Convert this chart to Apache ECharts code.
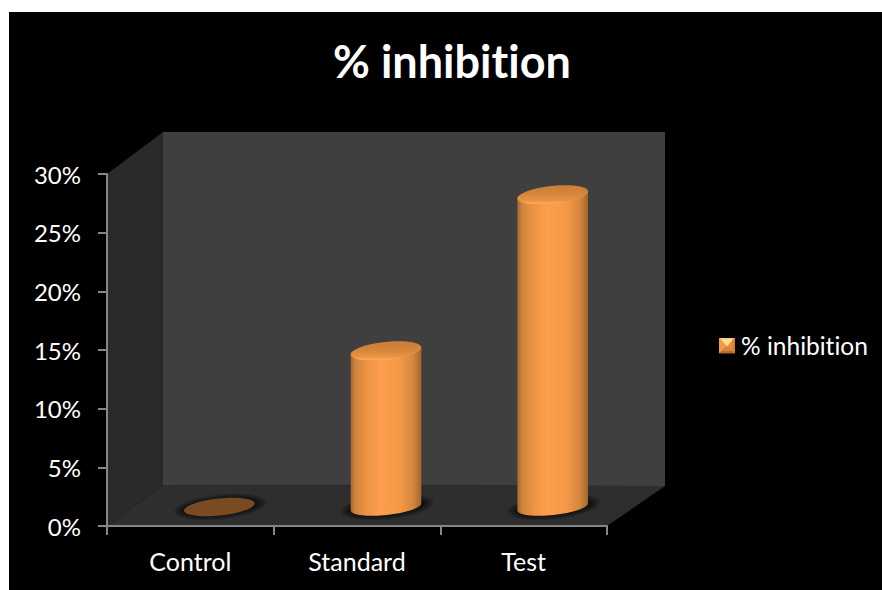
<!DOCTYPE html>
<html>
<head>
<meta charset="utf-8">
<style>
html, body { margin: 0; padding: 0; background: #fff; overflow: hidden; }
#chart { position: absolute; left: 9px; top: 12px; width: 873px; height: 578px; background: #000; }
#chart svg text { font-variant-ligatures: none; }
</style>
<script src="https://cdn.jsdelivr.net/npm/echarts@6/dist/echarts.min.js"></script>
</head>
<body>
<div id="chart"></div>
<script>
// Values of the % inhibition chart
const chartTitle = '% inhibition';
const categories = ['Control', 'Standard', 'Test'];
const inhibition = [0, 13.3, 26.6];
const axisMax = 30;
const axisStep = 5;

const FONT = 'Lato';
// Depth of the 3D box, as a pixel offset from the front plane to the back wall
const BACK_LEFT = [56, -41];
const BACK_RIGHT = [58, -40];
// Cylinders stand half way into the box
const MID_DEPTH = [29, -19];
const TILT = -6 * Math.PI / 180;
const RX = 35.5;
const RY = 8;

function ellipse(cx, cy, a, b, from, to, steps) {
  const pts = [];
  for (let i = 0; i <= steps; i++) {
    const t = from + (to - from) * i / steps;
    pts.push([
      cx + a * Math.cos(t) * Math.cos(TILT) - b * Math.sin(t) * Math.sin(TILT),
      cy + a * Math.cos(t) * Math.sin(TILT) + b * Math.sin(t) * Math.cos(TILT)
    ]);
  }
  return pts;
}

function linear(x, y, x2, y2, stops) {
  return {
    type: 'linear', x, y, x2, y2,
    colorStops: stops.map(s => ({ offset: s[0], color: s[1] }))
  };
}

function poly(points, fill) {
  return { type: 'polygon', shape: { points }, style: { fill }, silent: true };
}

// Back wall, side wall and floor of the box, anchored on the axis corners
function renderBox(params, api) {
  const x0 = params.coordSys.x;
  const x1 = x0 + params.coordSys.width;
  const top = api.coord([0, axisMax])[1];
  const bottom = api.coord([0, 0])[1];
  const bl = [x0 + BACK_LEFT[0], bottom + BACK_LEFT[1]];
  const tl = [x0 + BACK_LEFT[0], top - 42];
  const br = [x1 + BACK_RIGHT[0], bottom + BACK_RIGHT[1]];
  const tr = [x1 + BACK_RIGHT[0], top - 42];
  return {
    type: 'group',
    children: [
      poly([tl, tr, br, bl], '#3f3f3f'),
      poly([[x0, top], tl, bl, [x0, bottom]], '#2a2a2a'),
      poly([[x0, bottom], bl, br, [x1, bottom]], '#2e2e2e')
    ]
  };
}

function renderCylinder(params, api) {
  const base = api.coord([api.value(0), 0]);
  const head = api.coord([api.value(0), api.value(1)]);
  const cx = base[0] + MID_DEPTH[0];
  const by = base[1] + MID_DEPTH[1];
  const ty = head[1] + MID_DEPTH[1];
  const children = [];
  // Soft contact shadow built from nested translucent ellipses
  for (let i = 0; i < 7; i++) {
    children.push(poly(
      ellipse(cx + 1, by, RX + 11 - i * 2, RY + 4.5 - i, 0, Math.PI * 2, 48),
      'rgba(0,0,0,0.15)'
    ));
  }
  if (api.value(1) <= 0) {
    children.push(poly(ellipse(cx, by, RX, RY + 0.5, 0, Math.PI * 2, 48), '#7a4a23'));
    return { type: 'group', children };
  }
  const lower = ellipse(cx, by, RX, RY, 0, Math.PI, 32);
  const upperEnds = ellipse(cx, ty, RX, RY, Math.PI, Math.PI * 2, 1);
  const bodyFill = linear(0, 0, 1, 0, [
    [0, '#a6682f'], [0.07, '#cf843d'], [0.22, '#ec9344'], [0.42, '#fd9f4d'],
    [0.7, '#f39847'], [0.88, '#d4873d'], [1, '#a4662c']
  ]);
  children.push(poly(lower.concat(upperEnds), bodyFill));
  children.push(poly(ellipse(cx, ty, RX, RY + 1, 0, Math.PI * 2, 48),
    linear(0, 0, 0, 1, [[0, '#cb7d37'], [0.45, '#d5853b'], [0.8, '#ec9243'], [0.93, '#fcaa58'], [1, '#ee9444']])));
  return { type: 'group', children };
}

const legendIcon = 'image://data:image/svg+xml,' + encodeURIComponent(
  '<svg xmlns="http://www.w3.org/2000/svg" width="16" height="16">' +
  '<rect width="16" height="16" fill="#e58a3d"/>' +
  '<polygon points="0,0 16,0 8,8" fill="#ffd27e"/>' +
  '<polygon points="0,0 8,8 0,16" fill="#ef9a4c"/>' +
  '<polygon points="16,0 8,8 16,16" fill="#d27f37"/>' +
  '<polygon points="0,16 8,8 16,16" fill="#b56a2b"/>' +
  '<rect x="2.5" y="2.5" width="11" height="11" fill="#f39847" opacity="0.55"/>' +
  '<polygon points="2,2 14,2 8,9" fill="#ffdc8d"/>' +
  '</svg>'
);

const chart = echarts.init(document.getElementById('chart'), null, { renderer: 'svg' });
chart.setOption({
  animation: false,
  backgroundColor: '#000',
  textStyle: { fontFamily: FONT },
  title: {
    text: chartTitle,
    left: 438,
    top: 21,
    textAlign: 'center',
    textStyle: { color: '#fff', fontFamily: FONT, fontSize: 45, fontWeight: 'bold' }
  },
  legend: {
    left: 705,
    top: 316,
    data: [{ name: chartTitle, icon: legendIcon }],
    itemWidth: 16,
    itemHeight: 16,
    itemGap: 0,
    selectedMode: false,
    textStyle: { color: '#fff', fontFamily: FONT, fontSize: 24.5, padding: [0, 0, 0, 1] }
  },
  grid: { left: 98, top: 162, width: 500, height: 352 },
  xAxis: {
    type: 'category',
    data: categories,
    z: 5,
    axisLine: { show: true, lineStyle: { color: '#868686', width: 2 } },
    axisTick: { show: true, length: 9, lineStyle: { color: '#868686', width: 2 } },
    axisLabel: { color: '#fff', fontFamily: FONT, fontSize: 25, margin: 22 }
  },
  yAxis: {
    type: 'value',
    min: 0,
    max: axisMax,
    interval: axisStep,
    z: 5,
    splitLine: { show: false },
    axisLine: { show: true, lineStyle: { color: '#868686', width: 2 } },
    axisTick: { show: true, length: 9, lineStyle: { color: '#868686', width: 2 } },
    axisLabel: { color: '#fff', fontFamily: FONT, fontSize: 24, margin: 26, padding: [5, 0, 0, 0], formatter: v => v + '%' }
  },
  series: [
    {
      type: 'custom',
      name: 'box',
      z: 0,
      clip: false,
      silent: true,
      renderItem: renderBox,
      data: [[0, 0]],
      encode: { x: 0, y: 1 }
    },
    {
      type: 'custom',
      name: chartTitle,
      z: 6,
      clip: false,
      silent: true,
      renderItem: renderCylinder,
      itemStyle: { color: '#f79646' },
      data: inhibition.map((v, i) => [i, v]),
      encode: { x: 0, y: 1 }
    }
  ]
});
</script>
</body>
</html>
